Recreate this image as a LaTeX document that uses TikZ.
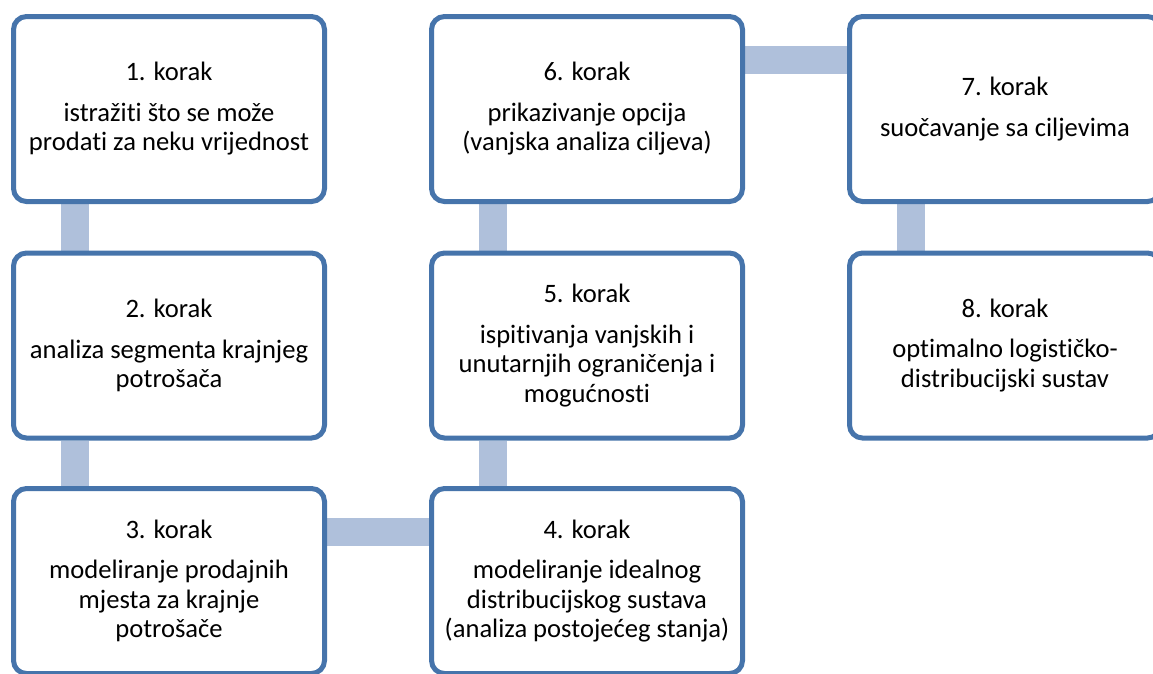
\documentclass[tikz,border=0pt]{standalone}
\usepackage{fontspec}
\setmainfont{Carlito}[RawFeature={-liga;-clig;-calt;-dlig}]
\usetikzlibrary{calc,backgrounds}
\definecolor{rub}{HTML}{4674AB}
\definecolor{vezaboja}{HTML}{AFC0DB}
\begin{document}
\begin{tikzpicture}[x=1pt, y=-1pt]
	\tikzstyle{korak} = [rectangle, rounded corners=13pt, draw=rub, line width=5pt, fill=white, minimum width=311pt, minimum height=185pt, align=center, inner sep=0pt, font=\fontsize{26.6}{29.5}\selectfont]
	\tikzstyle{spoj} = [draw=vezaboja, line width=28pt]
	\useasboundingbox (0,0) rectangle (1153,673);
	\node[korak](k1)at (169,109){1. korak\\[11pt]istražiti što se može\\prodati za neku vrijednost};
	\node[korak](k2)at (169,345.5){2. korak\\[11pt]analiza segmenta krajnjeg\\potrošača};
	\node[korak](k3)at (169,581){3. korak\\[11pt]modeliranje prodajnih\\mjesta za krajnje\\potrošače};
	\node[korak](k4)at (587,581){4. korak\\[11pt]modeliranje idealnog\\distribucijskog sustava\\(analiza postojećeg stanja)};
	\node[korak](k5)at (587,345.5){5. korak\\[11pt]ispitivanja vanjskih i\\unutarnjih ograničenja i\\mogućnosti};
	\node[korak](k6)at (587,109){6. korak\\[11pt]prikazivanje opcija\\(vanjska analiza ciljeva)};
	\node[korak](k7)at (1005,109){7. korak\\[11pt]suočavanje sa ciljevima};
	\node[korak](k8)at (1005,345.5){8. korak\\[11pt]optimalno logističko-\\distribucijski sustav};
	\begin{scope}[on background layer]
	% vertical links
	\path[spoj] ($(k1.south west)+(63.5,0)$) -- ($(k2.north west)+(63.5,0)$)
	($(k2.south west)+(63.5,0)$) -- ($(k3.north west)+(63.5,0)$)
	($(k4.north west)+(63.5,0)$) -- ($(k5.south west)+(63.5,0)$)
	($(k5.north west)+(63.5,0)$) -- ($(k6.south west)+(63.5,0)$)
	($(k7.south west)+(63.5,0)$) -- ($(k8.north west)+(63.5,0)$);
	% horizontal links
	\path[spoj] ($(k3.north east)+(0,46)$) -- ($(k4.north west)+(0,46)$)
	($(k6.north east)+(0,46)$) -- ($(k7.north west)+(0,46)$);
	\end{scope}
\end{tikzpicture}
\end{document}
